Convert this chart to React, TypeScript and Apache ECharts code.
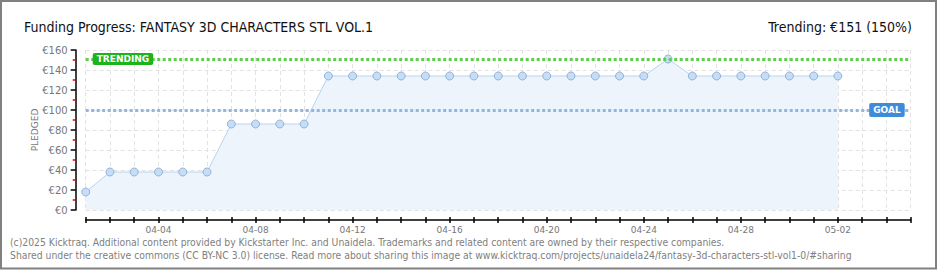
import React, { useEffect, useRef } from "react";
import * as echarts from "echarts";

const days: string[] = [
  "04-01","04-02","04-03","04-04","04-05","04-06","04-07","04-08","04-09","04-10",
  "04-11","04-12","04-13","04-14","04-15","04-16","04-17","04-18","04-19","04-20",
  "04-21","04-22","04-23","04-24","04-25","04-26","04-27","04-28","04-29","04-30",
  "05-01","05-02","05-03","05-04","05-05",
];
const pledged: number[] = [
  18, 38, 38, 38, 38, 38, 86, 86, 86, 86,
  134, 134, 134, 134, 134, 134, 134, 134, 134, 134,
  134, 134, 134, 134, 151, 134, 134, 134, 134, 134,
  134, 134,
];
const goalValue = 100;
const trendingValue = 151;
const yTicks = { min: 0, max: 160, interval: 20 };
const titleText = "Funding Progress: FANTASY 3D CHARACTERS STL VOL.1";
const trendText = "Trending: €151 (150%)";
const footer1 =
  "(c)2025 Kicktraq. Additional content provided by Kickstarter Inc. and Unaidela. Trademarks and related content are owned by their respective companies.";
const footer2 =
  "Shared under the creative commons (CC BY-NC 3.0) license. Read more about sharing this image at www.kicktraq.com/projects/unaidela24/fantasy-3d-characters-stl-vol1-0/#sharing";

export default function App() {
  const ref = useRef<HTMLDivElement>(null);
  useEffect(() => {
    if (!ref.current) return;
    const chart = echarts.init(ref.current, undefined, { renderer: "svg" });
    const axisFont = "DejaVu Sans";
    const titleFont = "'DejaVu Sans Condensed', 'DejaVu Sans'";
    chart.setOption({
      animation: false,
      backgroundColor: "#fff",
      grid: { left: 85.7, right: 29.3, top: 50, bottom: 60, containLabel: false },
      title: [
        {
          text: titleText,
          left: 19,
          top: 15,
          textStyle: { fontFamily: titleFont, fontWeight: "normal", fontSize: 14, color: "#111" },
        },
        {
          text: trendText,
          right: 23,
          top: 15,
          textStyle: { fontFamily: titleFont, fontWeight: "normal", fontSize: 14, color: "#111" },
        },
      ],
      xAxis: [
        {
          type: "category",
          data: days,
          boundaryGap: false,
          offset: 10,
          axisLine: { onZero: false, lineStyle: { color: "#000", width: 1.5 } },
          axisTick: { show: true, interval: 0, length: 3, lineStyle: { color: "#000", width: 1.5 } },
          axisLabel: {
            interval: (i: number) => i % 4 === 3,
            color: "#777",
            fontFamily: axisFont,
            fontSize: 9,
            margin: 5,
          },
          splitLine: { show: true, interval: 0, lineStyle: { color: "#e2e2e2", type: [4, 3] } },
        },
        {
          type: "category",
          data: days,
          boundaryGap: false,
          position: "bottom",
          offset: 10,
          axisLine: { show: false, onZero: false },
          axisTick: { show: true, inside: true, interval: 0, length: 3, lineStyle: { color: "#000", width: 1.5 } },
          axisLabel: { show: false },
          splitLine: { show: false },
        },
      ],
      yAxis: {
        type: "value",
        min: yTicks.min,
        max: yTicks.max,
        interval: yTicks.interval,
        offset: 10,
        name: "PLEDGED",
        nameLocation: "middle",
        nameGap: 36,
        nameMoveOverlap: false,
        nameRotate: 90,
        nameTextStyle: { color: "#777", fontFamily: axisFont, fontSize: 9 },
        axisLine: { show: true, onZero: false, lineStyle: { color: "#000", width: 1.5 } },
        axisTick: { show: true, length: 5, lineStyle: { color: "#000", width: 1.5 } },
        minorTick: { show: true, splitNumber: 2, length: 3, lineStyle: { color: "#e00", width: 1.5 } },
        axisLabel: {
          color: "#777",
          fontFamily: axisFont,
          fontSize: 10,
          margin: 8,
          formatter: (v: number) => "€" + v,
        },
        splitLine: { show: true, lineStyle: { color: "#e2e2e2", type: [4, 3] } },
      },
      series: [
        {
          type: "line",
          data: pledged,
          symbol: "circle",
          symbolSize: 8,
          lineStyle: { color: "#b8d3f0", width: 1 },
          itemStyle: { color: "#c6ddf6", borderColor: "#93b4dc", borderWidth: 1 },
          areaStyle: { color: "#edf4fc", opacity: 1 },
          z: 3,
          markLine: {
            silent: true,
            symbol: "none",
            data: [
              {
                yAxis: trendingValue,
                lineStyle: { color: "#5fce4c", width: 3, type: [3, 2.5] },
                label: {
                  show: true,
                  position: "insideStart",
                  distance: 7,
                  formatter: "TRENDING",
                  color: "#fff",
                  fontFamily: axisFont,
                  fontWeight: "bold",
                  fontSize: 9,
                  backgroundColor: "#1db31d",
                  padding: [2, 4, 1, 4],
                  borderRadius: 2,
                },
              },
              {
                yAxis: goalValue,
                lineStyle: { color: "#92b6de", width: 3, type: [3, 2.5] },
                label: {
                  show: true,
                  position: "insideEnd",
                  distance: 6,
                  formatter: "GOAL",
                  color: "#fff",
                  fontFamily: axisFont,
                  fontWeight: "bold",
                  fontSize: 9,
                  backgroundColor: "#3d8bd9",
                  padding: [3, 4, 2, 4],
                  borderRadius: 2,
                },
              },
            ],
          },
        },
      ],
      graphic: [
        {
          type: "text",
          left: 10,
          top: 237,
          style: { text: footer1, fill: "#808080", font: "10.3px 'DejaVu Sans Condensed', 'DejaVu Sans'" },
        },
        {
          type: "text",
          left: 10,
          top: 250,
          style: { text: footer2, fill: "#808080", font: "10.3px 'DejaVu Sans Condensed', 'DejaVu Sans'" },
        },
        {
          type: "rect",
          shape: { x: 1, y: 1, width: 935, height: 267.5 },
          style: { fill: "none", stroke: "#808080", lineWidth: 2 },
          silent: true,
        },
      ],
    });
    return () => chart.dispose();
  }, []);
  return (
    <div
      ref={ref}
      style={{ position: "fixed", left: 0, top: 0, width: 940, height: 270 }}
    />
  );
}
